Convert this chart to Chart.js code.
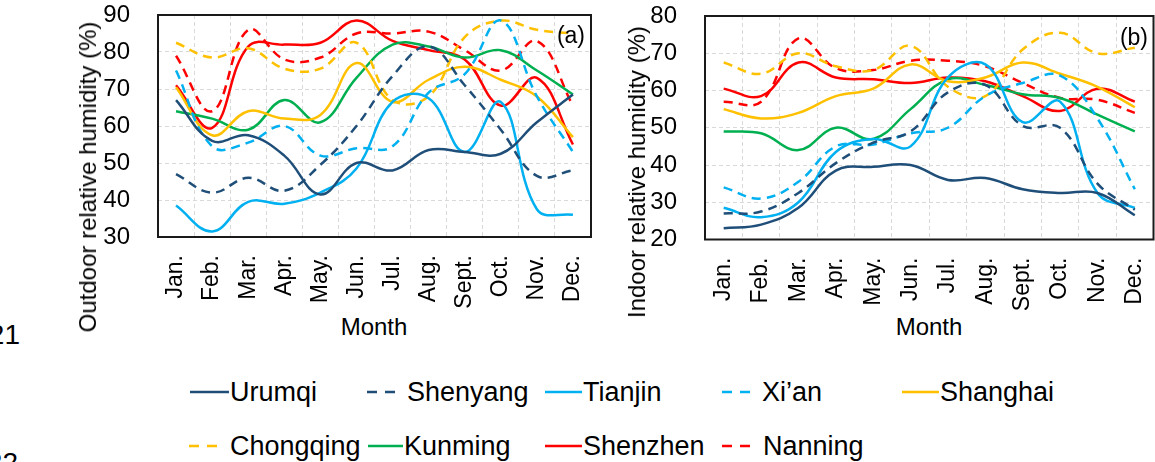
<!DOCTYPE html>
<html>
<head>
<meta charset="utf-8">
<script src="https://cdn.jsdelivr.net/npm/chart.js@4.4.0/dist/chart.umd.min.js"></script>
<style>
    body { margin: 0; width: 1155px; height: 462px; position: relative; overflow: hidden; background: #fff; font-family: "Liberation Sans", Arial, sans-serif; color: #000; }
    canvas { position: absolute; top: 0; }
    .txt { position: absolute; white-space: nowrap; }
    .ytitle { position: absolute; white-space: nowrap; font-size: 24px; line-height: 24px; transform: translate(-50%, -50%) rotate(-90deg); }
    .xtitle { position: absolute; white-space: nowrap; font-size: 24px; line-height: 24px; transform: translate(-50%, -50%); }
    .leg { position: absolute; font-size: 27px; line-height: 27px; white-space: nowrap; }
</style>
</head>
<body>
<canvas id="outdoor" width="600" height="310" style="left:0"></canvas>
<canvas id="indoor" width="555" height="310" style="left:600px"></canvas>

<div class="ytitle" style="left:88px;top:177px">Outdoor relative humidity (%)</div>
<div class="ytitle" style="left:637px;top:172px">Indoor relative humidity (%)</div>
<div class="xtitle" style="left:374px;top:327px">Month</div>
<div class="xtitle" style="left:929px;top:327px">Month</div>
<div class="txt" style="right:570px;top:23px;font-size:23px;line-height:24px">(a)</div>
<div class="txt" style="right:7px;top:25px;font-size:23px;line-height:24px">(b)</div>
<div class="txt" style="right:1135px;top:321px;font-size:28px;line-height:28px">21</div>
<div class="txt" style="right:1137px;top:449px;font-size:28px;line-height:28px">22</div>
<div id="legend"></div>

<script>
const months = ['Jan.', 'Feb.', 'Mar.', 'Apr.', 'May.', 'Jun.', 'Jul.', 'Aug.', 'Sept.', 'Oct.', 'Nov.', 'Dec.']
const cities = ['Urumqi', 'Shenyang', 'Tianjin', 'Xi’an', 'Shanghai', 'Chongqing', 'Kunming', 'Shenzhen', 'Nanning']

// outdoor RH (%), panel (a)
const urumqiOut = [67, 56, 57.5, 52, 41.5, 50, 48, 53.5, 53, 52.5, 61, 68.5]
const shenyangOut = [47, 42, 46, 42.5, 49.5, 60, 73.5, 81.5, 71, 59, 46.5, 48]
const tianjinOut = [38.5, 31.5, 39.5, 39, 42, 48.5, 66.5, 67.5, 53, 66.5, 37.5, 36]
const xianOut = [75, 54.5, 55.5, 60, 52, 54, 54.5, 69, 74, 88.5, 68, 53]
const shanghaiOut = [70.5, 57.5, 64, 62, 63, 77, 66.5, 72.5, 76, 72.5, 68, 57]
const chongqingOut = [82.5, 78.5, 81, 75.5, 75.5, 82.5, 67, 68, 84, 88.5, 86, 85]
const kunmingOut = [64, 62, 59, 67, 61, 73, 82, 81.5, 78.5, 80.5, 75, 68.5]
const shenzhenOut = [71, 59.5, 81.5, 82, 82.5, 88.5, 83, 80.5, 78, 65.5, 73, 55]
const nanningOut = [79, 64, 86, 78, 78.5, 85, 85, 85.5, 80.5, 75, 83, 65.5]

// indoor RH (%), panel (b)
const urumqiIn = [23, 24, 28.5, 38.5, 39.5, 40, 36, 36.5, 33.5, 32.5, 32.5, 26.5]
const shenyangIn = [27, 27.5, 32.5, 40.5, 46, 49, 59.5, 61.5, 50.5, 50, 35, 28]
const tianjinIn = [28.5, 26, 30, 43.5, 47, 45, 63.5, 67, 51.5, 57, 32.5, 28.5]
const xianIn = [34, 31, 35.5, 45, 45.5, 48.5, 50, 58.5, 62, 64, 52.5, 33.5]
const shanghaiIn = [55, 52.5, 54, 58.5, 60.5, 67, 62.5, 63.5, 67.5, 64.5, 61, 55.5]
const chongqingIn = [67.5, 64.5, 70, 66.5, 65.5, 72, 61, 58.5, 71, 75.5, 70, 71.5]
const kunmingIn = [49, 48.5, 44, 50, 47, 55, 63, 61.5, 59, 58, 53.5, 49]
const shenzhenIn = [60.5, 58.5, 67.5, 63.5, 63, 62, 63.5, 62.5, 58.5, 54.5, 60.5, 57]
const nanningIn = [57, 57, 74, 66, 65.5, 68, 68, 66.5, 62, 58, 57.5, 54]

const outdoorTicks = [30, 90]
const indoorTicks = [20, 80]

const outdoorSeries = [urumqiOut, shenyangOut, tianjinOut, xianOut, shanghaiOut, chongqingOut, kunmingOut, shenzhenOut, nanningOut]
const indoorSeries = [urumqiIn, shenyangIn, tianjinIn, xianIn, shanghaiIn, chongqingIn, kunmingIn, shenzhenIn, nanningIn]

// styles
const colors = ['#1F4E79', '#1F4E79', '#00B0F0', '#00B0F0', '#FFC000', '#FFC000', '#00B050', '#FF0000', '#FF0000']
const dashed = [false, true, false, true, false, true, false, false, true]
const DASH = [9, 6]

// legend spots: sample x, text x, line y
const legendSpots = [
    [190, 230, 392], [367, 407, 392], [545, 583, 392], [722, 762, 392], [902, 940, 392],
    [189, 230, 446], [368, 404, 446], [545, 583, 446], [722, 763, 446],
]

const frame = {
    id: 'frame',
    afterDatasetsDraw(chart) {
        const { ctx, chartArea: a } = chart
        ctx.save()
        ctx.strokeStyle = '#1a1a1a'
        ctx.lineWidth = 2
        ctx.strokeRect(a.left, a.top, a.right - a.left, a.bottom - a.top)
        ctx.restore()
    },
}

// kill the auto padding the labels ask for, the box is placed by hand
const noPad = scale => {
    scale.paddingTop = 0
    scale.paddingBottom = 0
    scale.paddingLeft = 0
    scale.paddingRight = 0
}

const makeChart = (id, series, range, box) => {
    return new Chart(document.getElementById(id), {
        type: 'line',
        data: {
            labels: months,
            datasets: series.map((values, i) => ({
                label: cities[i],
                data: values,
                borderColor: colors[i],
                borderWidth: 2.5,
                borderDash: dashed[i] ? DASH : [],
                pointRadius: 0,
                tension: 0.4,
                fill: false,
            })),
        },
        options: {
            responsive: false,
            devicePixelRatio: 1,
            animation: false,
            layout: { autoPadding: false, padding: { top: box.top, right: box.right, left: 0, bottom: 0 } },
            plugins: { legend: { display: false }, tooltip: { enabled: false } },
            scales: {
                x: {
                    offset: true,
                    grid: { offset: true, color: '#d9d9d9', lineWidth: 1, drawTicks: false, borderDash: [4, 3] },
                    border: { display: false, dash: [4, 3] },
                    ticks: {
                        autoSkip: false,
                        maxRotation: 90,
                        minRotation: 90,
                        padding: 18,
                        color: '#000',
                        font: { family: '"Liberation Sans", Arial, sans-serif', size: 23 },
                    },
                    afterFit: scale => {
                        scale.height = box.xh
                        noPad(scale)
                    },
                },
                y: {
                    min: range[0],
                    max: range[1],
                    grid: { color: '#d9d9d9', lineWidth: 1, drawTicks: false, borderDash: [4, 3] },
                    border: { display: false, dash: [4, 3] },
                    ticks: {
                        stepSize: 10,
                        padding: 28,
                        color: '#000',
                        font: { family: '"Liberation Sans", Arial, sans-serif', size: 24 },
                    },
                    afterFit: scale => {
                        scale.width = box.yw
                        noPad(scale)
                    },
                },
            },
        },
        plugins: [frame],
    })
}

makeChart('outdoor', outdoorSeries, outdoorTicks, { top: 15, right: 9, xh: 73, yw: 158 })
makeChart('indoor', indoorSeries, indoorTicks, { top: 16, right: 1.5, xh: 70.5, yw: 105 })

// legend
const legend = document.getElementById('legend')
cities.forEach((name, i) => {
    const [sx, tx, y] = legendSpots[i]
    const w = dashed[i] ? 28 : tx - sx - 1
    const svg = `<svg class="leg" width="${w}" height="6" style="left:${sx}px;top:${y - 3}px">
        <line x1="0" y1="3" x2="${w}" y2="3" stroke="${colors[i]}" stroke-width="2.5"
        ${dashed[i] ? 'stroke-dasharray="10 8"' : ''}/></svg>`
    legend.insertAdjacentHTML('beforeend', svg)
    legend.insertAdjacentHTML('beforeend', `<div class="leg" style="left:${tx}px;top:${y - 13.2}px">${name}</div>`)
})
</script>
</body>
</html>
